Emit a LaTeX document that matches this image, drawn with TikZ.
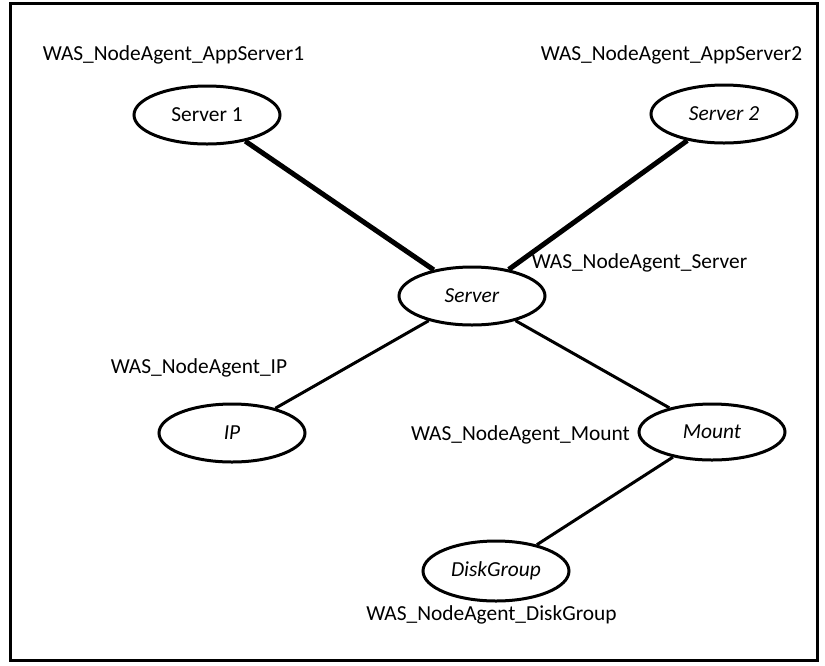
\documentclass[tikz,border=0pt]{standalone}
\usepackage{fontspec}
\setmainfont{Carlito}
\usetikzlibrary{shapes.geometric}
\begin{document}
\begin{tikzpicture}[x=1pt,y=-1pt,
  res/.style={draw,ellipse,line width=3pt,minimum width=146pt,minimum height=58pt,inner sep=0pt,font=\fontsize{21.4}{25}\selectfont\itshape},
  lbl/.style={inner sep=0pt,font=\fontsize{21.4}{25}\selectfont},
  thick link/.style={line width=5pt},
  thin link/.style={line width=3pt}]
\useasboundingbox (0,0) rectangle (825,665);
\draw[line width=3pt] (10.5,3.5) rectangle (817,660);
\node[res,font=\fontsize{21.4}{25}\selectfont\upshape] (s1) at (207,115) {Server 1};
\node[res] (s2) at (724,114) {Server 2};
\node[res] (srv) at (472,296) {Server};
\node[res] (ip) at (232,433) {IP};
\node[res,minimum height=56pt] (mnt) at (712,432) {Mount};
\node[res,minimum height=60pt] (dg) at (496,571) {DiskGroup};
\node[lbl] (l1) at (173.5,55) {WAS\_NodeAgent\_AppServer1};
\node[lbl] (l2) at (671.5,55) {WAS\_NodeAgent\_AppServer2};
\node[lbl] (l3) at (639.5,263) {WAS\_NodeAgent\_Server};
\node[lbl] (l4) at (199,368) {WAS\_NodeAgent\_IP};
\node[lbl] (l5) at (520.5,435) {WAS\_NodeAgent\_Mount};
\node[lbl] (l6) at (491.5,615) {WAS\_NodeAgent\_DiskGroup};
\draw[thick link] (s1) -- (srv);
\draw[thick link] (s2) -- (srv);
\draw[thin link] (srv) -- (ip);
\draw[thin link] (srv) -- (mnt);
\draw[thin link] (mnt) -- (dg);
\end{tikzpicture}
\end{document}
